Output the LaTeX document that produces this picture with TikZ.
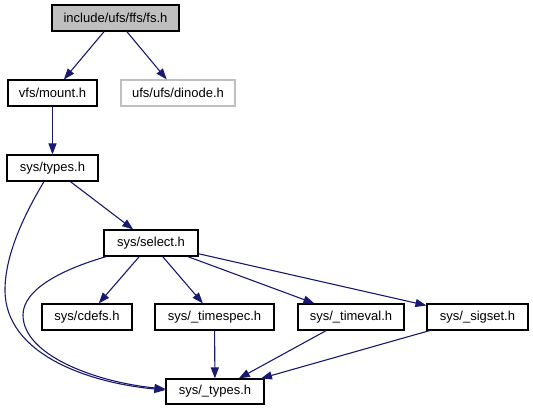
\documentclass[tikz,border=0pt]{standalone}
\usepackage{fontspec}
\setmainfont{Liberation Sans}
\usetikzlibrary{arrows.meta,calc}
\definecolor{edgeblue}{HTML}{191970}
\definecolor{fsgray}{HTML}{BFBFBF}
\definecolor{lightborder}{HTML}{BFBFBF}
\begin{document}
\begin{tikzpicture}[x=1pt,y=-1pt,
  filebox/.style={draw=black,line width=1.1pt,minimum height=26pt,inner sep=0pt,
    font=\fontsize{13}{15}\selectfont,text=black},
  dep/.style={draw=edgeblue,line width=1.1pt,
    -{Triangle[length=11pt,width=8pt,fill=edgeblue]}}]
\useasboundingbox (0,0) rectangle (533,411);
\node[filebox,fill=fsgray,minimum width=127pt] (fs) at (115.5,18) {include/ufs/ffs/fs.h};
\node[filebox,minimum width=89pt] (mount) at (52.5,93) {vfs/mount.h};
\node[filebox,draw=lightborder,minimum width=114pt] (dinode) at (178,93) {ufs/ufs/dinode.h};
\node[filebox,minimum width=91pt] (types) at (52.5,168) {sys/types.h};
\node[filebox,minimum width=94pt] (select) at (151,243) {sys/select.h};
\node[filebox,minimum width=90pt] (cdefs) at (87,317) {sys/cdefs.h};
\node[filebox,minimum width=119pt] (timespec) at (214.5,317) {sys/\_timespec.h};
\node[filebox,minimum width=106pt] (timeval) at (351,317) {sys/\_timeval.h};
\node[filebox,minimum width=101pt] (sigset) at (477.5,317) {sys/\_sigset.h};
\node[filebox,minimum width=98pt,minimum height=25pt] (systypes) at (215,391.5) {sys/\_types.h};
\draw[dep] (fs) -- (mount);
\draw[dep] (fs) -- (dinode);
\draw[dep] (mount) -- (types);
\draw[dep] (types) -- (select);
\draw[dep] ($(types.south)+(-8.5,0)$) .. controls (24,215) and (5,255) .. (5,290)
  .. controls (5,355) and (90,383) .. ($(systypes.west)+(0,-1.5)$);
\draw[dep] ($(select.south west)+(3,0)$) .. controls (60,270) and (23,290) .. (23,315)
  .. controls (23,355) and (95,382) .. ($(systypes.west)+(0,-2.5)$);
\draw[dep] (select) -- (cdefs);
\draw[dep] (select) -- (timespec);
\draw[dep] (select) -- (timeval);
\draw[dep] (select) -- (sigset);
\draw[dep] (timespec) -- (systypes);
\draw[dep] (timeval) -- (systypes);
\draw[dep] (sigset) -- (systypes);
\end{tikzpicture}
\end{document}
